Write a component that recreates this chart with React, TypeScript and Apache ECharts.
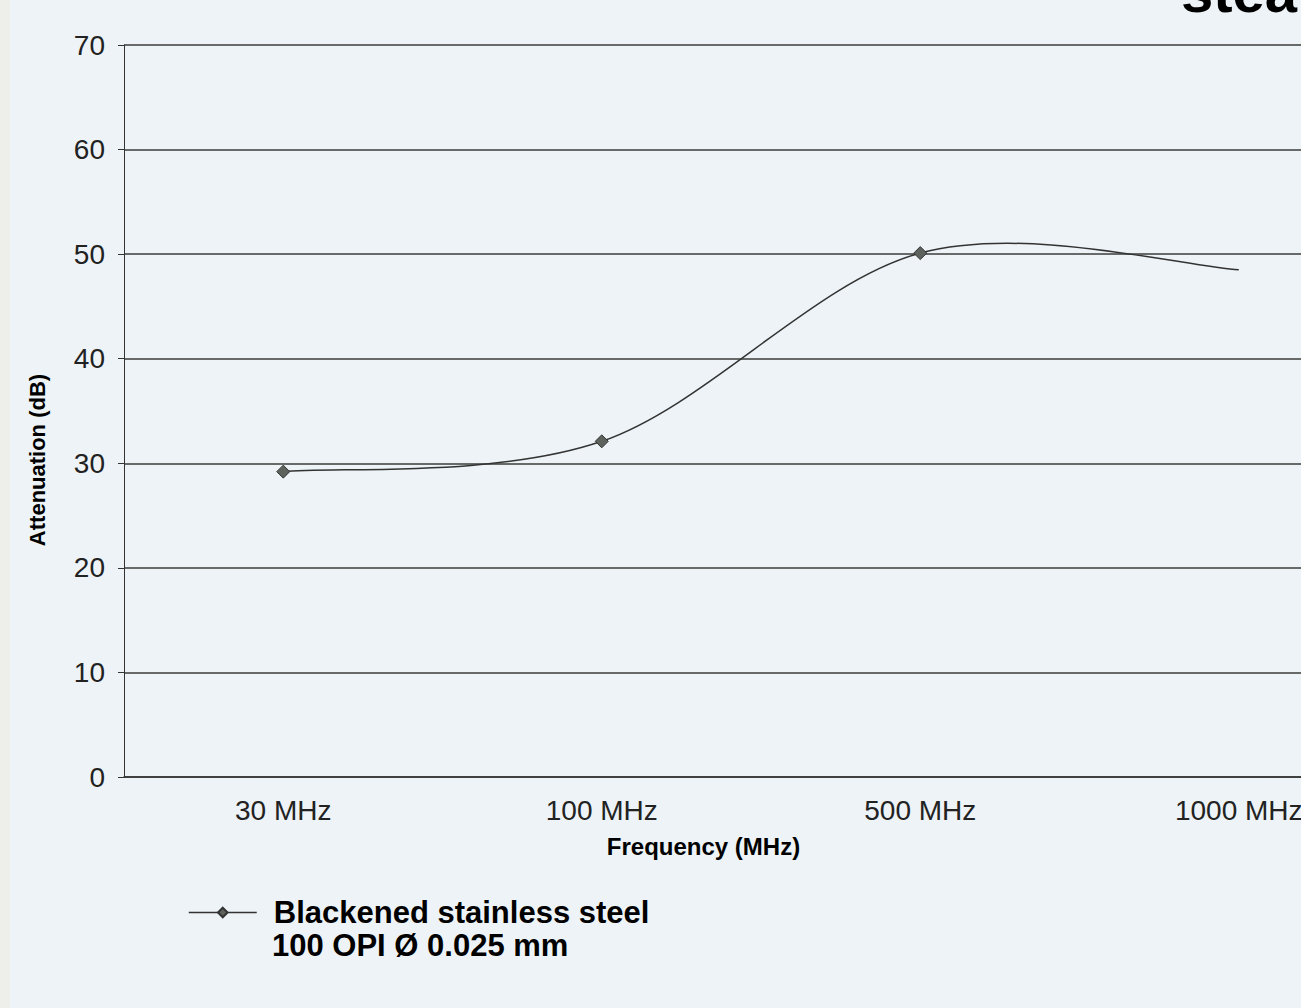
import React, { useEffect, useRef } from "react";
import * as echarts from "echarts";

const categories = ["30 MHz", "100 MHz", "500 MHz", "1000 MHz"];
const attenuation = [29.2, 32.1, 50.1, 48.5];
const seriesName = "Blackened stainless steel";
const seriesName2 = "100 OPI Ø 0.025 mm";
const yMin = 0;
const yMax = 70;
const yInterval = 10;

const FONT = "'Liberation Sans', Arial, Helvetica, sans-serif";

export default function App() {
  const ref = useRef<HTMLDivElement>(null);
  useEffect(() => {
    document.body.style.margin = "0";
    document.body.style.overflow = "hidden";
    const chart = echarts.init(ref.current!, null, { renderer: "svg" });
    const markerData = attenuation.map((v, i) =>
      i === attenuation.length - 1 ? { value: v, symbol: "none" } : v
    );
    const curveData = attenuation.map((v, i) => [i, v]);
    const n = attenuation.length;

    // Catmull-Rom style smoothing (Bezier with tangents (next - prev) / 6)
    const renderSegment = (params: any, api: any) => {
      const i = params.dataIndex;
      if (i >= n - 1) return null;
      const pt = (k: number) => {
        const kk = Math.max(0, Math.min(n - 1, k));
        return api.coord([kk, attenuation[kk]]);
      };
      const p0 = pt(i - 1);
      const p1 = pt(i);
      const p2 = pt(i + 1);
      const p3 = pt(i + 2);
      return {
        type: "bezierCurve",
        shape: {
          x1: p1[0],
          y1: p1[1],
          cpx1: p1[0] + (p2[0] - p0[0]) / 6,
          cpy1: p1[1] + (p2[1] - p0[1]) / 6,
          cpx2: p2[0] - (p3[0] - p1[0]) / 6,
          cpy2: p2[1] - (p3[1] - p1[1]) / 6,
          x2: p2[0],
          y2: p2[1],
        },
        style: { stroke: "#333", lineWidth: 1.5, fill: "none" },
      };
    };

    chart.setOption({
      animation: false,
      backgroundColor: "#edf3f6",
      textStyle: { fontFamily: FONT },
      grid: { left: 124, right: 22, top: 45, bottom: 231 },
      legend: {
        left: 183,
        top: 892,
        itemWidth: 68,
        itemHeight: 12,
        itemGap: 10,
        lineStyle: { color: "#333", width: 1.5, opacity: 1 },
        textStyle: {
          fontSize: 31,
          fontWeight: "bold",
          color: "#000",
          fontFamily: FONT,
          padding: [0, 0, 0, 12],
        },
        data: [seriesName],
      },
      xAxis: {
        type: "category",
        data: categories,
        boundaryGap: true,
        name: "Frequency (MHz)",
        nameLocation: "middle",
        nameGap: 57,
        nameTextStyle: {
          fontSize: 24,
          fontWeight: "bold",
          color: "#000",
          fontFamily: FONT,
          padding: [0, 115, 0, 0],
        },
        axisLine: { show: true, lineStyle: { color: "#333", width: 1.5 } },
        axisTick: { show: false },
        axisLabel: { fontSize: 28, color: "#222", margin: 19, fontFamily: FONT },
        splitLine: { show: false },
      },
      yAxis: {
        type: "value",
        min: yMin,
        max: yMax,
        interval: yInterval,
        name: "Attenuation (dB)",
        nameLocation: "middle",
        nameGap: 76,
        nameTextStyle: {
          fontSize: 22,
          fontWeight: "bold",
          color: "#000",
          fontFamily: FONT,
          padding: [0, 98, 0, 0],
        },
        axisLine: { show: true, lineStyle: { color: "#333", width: 1 } },
        axisTick: { show: true, length: 6, lineStyle: { color: "#333" } },
        axisLabel: { fontSize: 28, color: "#222", margin: 19, fontFamily: FONT },
        splitLine: { show: true, lineStyle: { color: "#3a3d3a", width: 1.5 } },
      },
      series: [
        {
          name: seriesName,
          type: "line",
          data: markerData,
          smooth: false,
          symbol: "diamond",
          symbolSize: 13,
          showAllSymbol: true,
          z: 4,
          lineStyle: { color: "#333", width: 1.5, opacity: 0 },
          itemStyle: { color: "#5d625d", borderColor: "#333", borderWidth: 1 },
        },
        {
          name: "curve",
          type: "custom",
          data: curveData,
          renderItem: renderSegment,
          z: 3,
          silent: true,
        },
      ],
      graphic: [
        {
          type: "rect",
          left: 0,
          top: 0,
          shape: { width: 10, height: 1008 },
          style: { fill: "#eeeeea" },
          silent: true,
        },
        {
          type: "text",
          left: 272,
          top: 930,
          style: {
            text: seriesName2,
            font: `bold 31px ${FONT}`,
            fill: "#000",
          },
        },
        {
          type: "text",
          x: 1181,
          y: -9,
          style: {
            text: "stea",
            font: `bold 58px ${FONT}`,
            fill: "#000",
            align: "left",
            verticalAlign: "middle",
          },
        },
      ],
    });
    return () => chart.dispose();
  }, []);
  return (
    <div
      ref={ref}
      style={{ position: "fixed", left: 0, top: 0, width: 1420, height: 1008 }}
    />
  );
}
